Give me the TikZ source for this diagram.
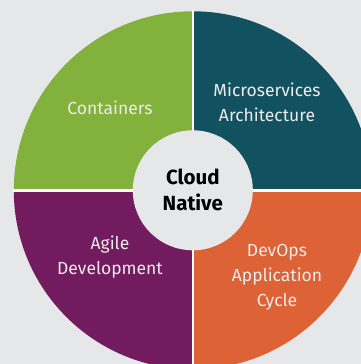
\documentclass[tikz,border=0pt]{standalone}
\usepackage{fontspec}
\setmainfont{Fira Sans}
\definecolor{bgGray}{HTML}{E6E7E9}
\definecolor{segGreen}{HTML}{82B23C}
\definecolor{segTeal}{HTML}{12515F}
\definecolor{segPurple}{HTML}{731B5F}
\definecolor{segOrange}{HTML}{DD6236}
\definecolor{labelWhite}{HTML}{ECECEC}
\begin{document}
\begin{tikzpicture}[x=1pt,y=1pt,
  seglabel/.style={text=labelWhite, align=center, font=\fontsize{17.5}{25}\selectfont},
  corelabel/.style={circle, fill=bgGray, minimum size=120pt, inner sep=0pt, align=center,
    font=\fontsize{20.5}{26}\selectfont\bfseries, text=black}]
  \useasboundingbox (0,0) rectangle (361,364);
  \fill[bgGray] (0,0) rectangle (361,364);
  \begin{scope}
    \clip (0,0) rectangle (361,364);
    \coordinate (c) at (192.8,173.7);
    % four quadrants of the wheel
    \fill[segGreen]  (c) -- ++(180:179) arc (180:90:179) -- cycle;
    \fill[segTeal]   (c) -- ++(90:179) arc (90:0:179) -- cycle;
    \fill[segOrange] (c) -- ++(0:179) arc (0:-90:179) -- cycle;
    \fill[segPurple] (c) -- ++(270:179) arc (270:180:179) -- cycle;
    % white gaps between quadrants
    \draw[white, line width=2.6pt] ([xshift=-180pt]c) -- ([xshift=180pt]c);
    \draw[white, line width=2.6pt] ([yshift=-180pt]c) -- ([yshift=180pt]c);
  \end{scope}
  \node[corelabel] (core) at (c) {Cloud\\Native};
  \node[seglabel] (containers) at (110,256) {Containers};
  \node[seglabel] (micro) at (267,262) {Microservices\\Architecture};
  \node[seglabel] (agile) at (110,106.5) {Agile\\Development};
  \node[seglabel] (devops) at (277,87) {DevOps\\Application\\Cycle};
\end{tikzpicture}
\end{document}
